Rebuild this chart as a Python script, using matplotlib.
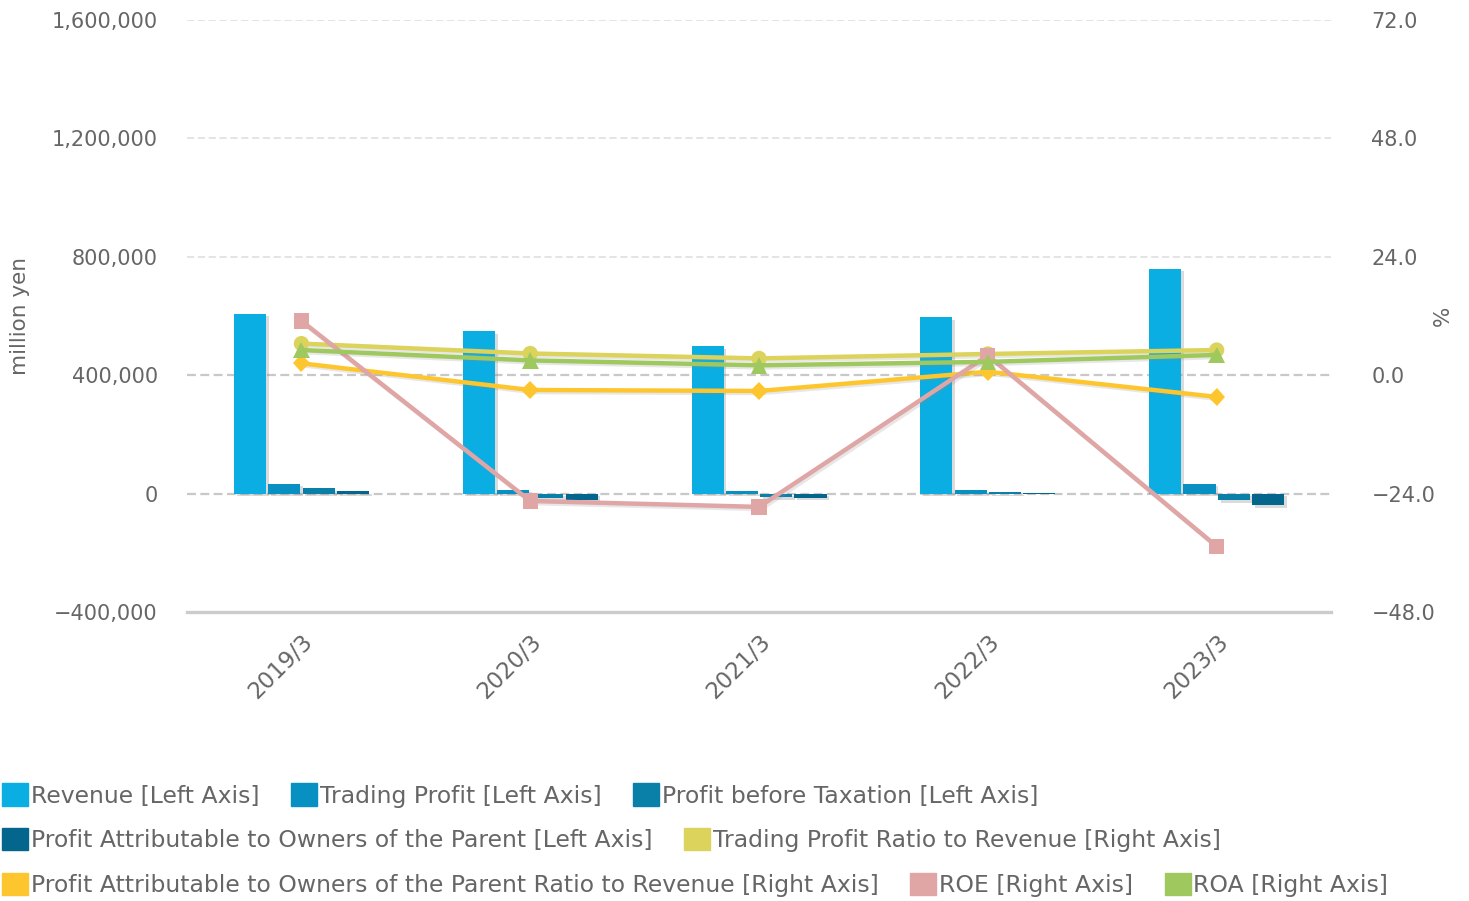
import numpy as np
import matplotlib
matplotlib.use("Agg")
import matplotlib.pyplot as plt
import matplotlib.patheffects as pe
from matplotlib.patches import Patch
from matplotlib.ticker import FuncFormatter

years = ["2019/3", "2020/3", "2021/3", "2022/3", "2023/3"]

# million yen (left axis)
revenue = [608000, 549000, 498000, 595000, 760000]
trading_profit = [34000, 13500, 7000, 11500, 34000]
profit_before_tax = [19500, -15000, -12000, 6000, -22000]
profit_owners = [7000, -22000, -14000, 2000, -38000]

# % (right axis)
trading_ratio = [6.4, 4.4, 3.4, 4.3, 5.1]
owners_ratio = [2.4, -3.0, -3.2, 0.7, -4.4]
roe = [11.0, -25.5, -26.7, 4.0, -34.7]
roa = [5.1, 3.0, 2.0, 2.7, 4.1]

bar_labels = ["Revenue [Left Axis]", "Trading Profit [Left Axis]",
              "Profit before Taxation [Left Axis]",
              "Profit Attributable to Owners of the Parent [Left Axis]"]
line_labels = ["Trading Profit Ratio to Revenue [Right Axis]",
               "Profit Attributable to Owners of the Parent Ratio to Revenue [Right Axis]",
               "ROE [Right Axis]", "ROA [Right Axis]"]

bar_colors = ["#0aaee2", "#0890c2", "#0a7fa8", "#04668c"]
line_colors = ["#dbd35c", "#fec62e", "#e0a5a5", "#9fc95f"]
markers = ["o", "D", "s", "^"]
msizes = [11, 9, 11, 12]

text_grey = "#666666"

fig = plt.figure(figsize=(14.69, 9.01), dpi=100)
ax = fig.add_axes([0.1273, 0.3208, 0.7788, 0.657])
ax2 = ax.twinx()

x = np.arange(len(years))
bw = 0.14
step = 0.15
shadow = [pe.SimplePatchShadow(offset=(2, -2), shadow_rgbFace="#888888", alpha=0.3),
          pe.Normal()]
for i, (vals, col) in enumerate(zip([revenue, trading_profit, profit_before_tax, profit_owners],
                                     bar_colors)):
    bars = ax.bar(x + (i - 1.5) * step, vals, width=bw, color=col, zorder=3)
    for b in bars:
        b.set_path_effects(shadow)

ax.set_ylim(-400000, 1600000)
ax.set_xlim(-0.5, len(years) - 0.5)
ax.set_yticks(np.arange(-400000, 1600001, 400000))
ax.yaxis.set_major_formatter(FuncFormatter(lambda v, p: f"{v:,.0f}".replace("-", "\u2212")))
for v in np.arange(800000, 1600001, 400000):
    ax.axhline(v, color="#e2e2e2", lw=1.3, ls=(0, (4, 2)), zorder=1)
ax.axhline(400000, color="#c8c8c8", lw=1.6, ls=(0, (4, 2)), zorder=1)
ax.axhline(0, color="#c8c8c8", lw=1.6, ls=(0, (4, 2)), zorder=1)
ax.axhline(-400000, color="#cccccc", lw=2.4, zorder=1, clip_on=False)

ax2.set_ylim(-48, 72)
ax2.set_yticks(np.arange(-48, 73, 24))
ax2.yaxis.set_major_formatter(FuncFormatter(lambda v, p: f"{v:.1f}".replace("-", "\u2212")))

line_shadow = [pe.SimpleLineShadow(offset=(1.5, -1.5), shadow_color="#888888", alpha=0.2),
               pe.Normal()]
for vals, col, m, ms in zip([trading_ratio, owners_ratio, roe, roa], line_colors, markers, msizes):
    ax2.plot(x, vals, color=col, lw=3.2, marker=m, markersize=ms,
             markeredgewidth=0, zorder=4, path_effects=line_shadow)

for a in (ax, ax2):
    for s in a.spines.values():
        s.set_visible(False)
    a.tick_params(length=0, colors=text_grey, labelsize=15)

ax.tick_params(axis="y", pad=21)
ax2.tick_params(axis="y", pad=29)
ax.set_xticks(x)
ax.set_xticklabels(years, rotation=45, ha="right", rotation_mode="anchor", fontsize=16.5)
ax.tick_params(axis="x", pad=13)

ax.set_ylabel("million yen", color=text_grey, fontsize=15.5)
ax2.set_ylabel("%", color=text_grey, fontsize=15.5, rotation=90)
ax.yaxis.set_label_coords(-0.137, 0.5)
ax2.yaxis.set_label_coords(1.089, 0.5)

# legend rows, flowing like the original
handles = [Patch(color=c) for c in bar_colors + line_colors]
labels = bar_labels + line_labels
rows = [[0, 1, 2], [3, 4], [5, 6, 7]]
row_y = [0.117, 0.068, 0.018]
for idx, yy in zip(rows, row_y):
    fig.legend([handles[i] for i in idx], [labels[i] for i in idx],
               loc="center left", bbox_to_anchor=(0.0, yy), ncol=len(idx),
               frameon=False, fontsize=16.9, handlelength=1.1, handleheight=1.1,
               handletextpad=0.12, columnspacing=1.35, borderpad=0, borderaxespad=0.1,
               labelcolor=text_grey)

fig.savefig("out.png", dpi=100)
